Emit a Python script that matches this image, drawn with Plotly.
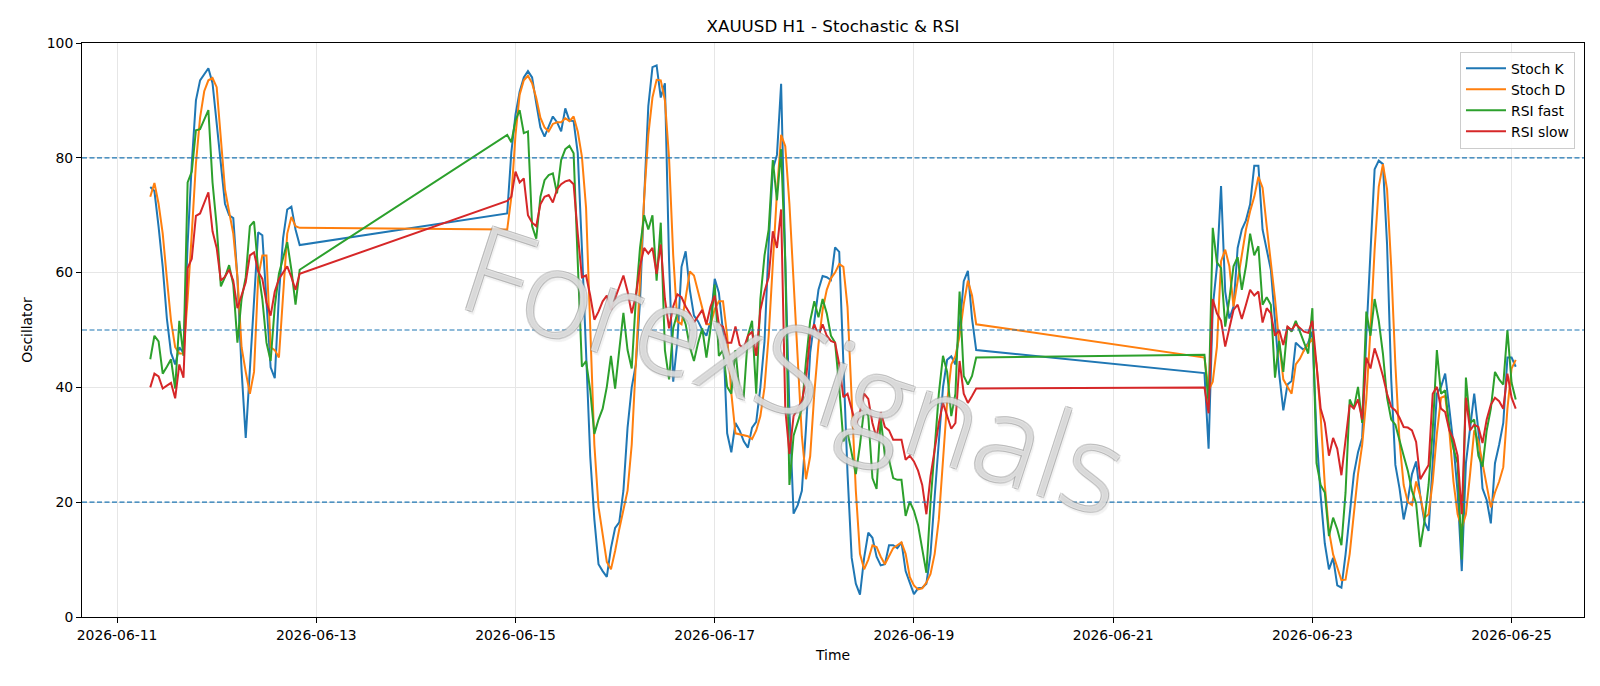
import pandas as pd
import plotly.graph_objects as go

# ---------------- data (hourly, three trading segments) ----------------
seg_starts = ["2026-06-11 08:00", "2026-06-14 22:00", "2026-06-21 22:00"]

stoch_k_1 = [74.9, 74.2, 68, 61, 52, 46, 44, 47, 46, 65, 79, 90, 93.5, 94.5, 95.6, 93, 86, 78, 72, 70,
             69.5, 59, 43, 31.2, 43, 54, 67, 66.5, 54, 43.5, 41.6, 56, 66, 71, 71.5, 67.5, 64.8]
stoch_d_1 = [73.2, 75.6, 72, 66.8, 59, 51.6, 47, 45.9, 45.9, 55.4, 66.8, 79, 87, 91.6, 93.5, 93.9, 92.3, 84, 74.5, 70.6,
             66.8, 59.2, 47, 42.7, 38.9, 42.7, 59.2, 63, 63, 47, 46.5, 45.2, 55.4, 66.8, 69.7, 68.1, 67.8]
rsi_fast_1 = [44.9, 49, 48, 42.4, 43.6, 44.9, 39.8, 51.6, 45.5, 75.7, 77.6, 84.8, 85, 86.5, 88.3, 75.7, 68.1, 57.6, 59.2, 61.3,
              57.9, 47.8, 55.4, 59.2, 68.1, 68.9, 60.5, 55.4, 47.8, 44.6, 54.1, 59.8, 62.4, 65.3, 60.5, 54.4, 60.5]
rsi_slow_1 = [40, 42.4, 41.9, 39.8, 40.3, 40.8, 38.1, 44, 41.7, 60.8, 62.4, 69.9, 70.3, 72.2, 74, 67.2, 64.3, 58.6, 59.3, 60.5,
              58.6, 53.8, 56, 58.3, 63, 63.5, 60.2, 58.9, 54.8, 52.5, 56.7, 58.9, 60, 61.1, 59.2, 57, 59.8]

stoch_k_2 = [70.3, 81, 87.5, 91.5, 94, 95.1, 94, 89.5, 85.3, 83.7, 85.5, 87.2, 86.2, 84.6, 88.6, 86.5, 86.4, 80.8, 64.3, 47,
             28, 17, 9.2, 8, 7, 12, 15.5, 16.5, 22,
             33, 40, 44, 55, 73, 89, 95.8, 96.1, 90.5, 93, 62, 41, 48, 61, 63.7, 57, 52.5, 51.5, 50, 49,
             51.5, 58.9, 56.5, 49.7, 32, 28.7, 33.8, 32.5, 30.6,
             29.5, 33, 34, 40, 48, 65, 78, 80.5, 92.9, 62, 36, 18, 19.5, 22, 33, 46, 52, 57, 59.4, 59.2,
             58.7, 64.4, 63.6, 45, 25, 10.3, 5.8, 3.9, 10.3, 14.7, 13.8,
             10.5, 9, 9.2, 12.5, 12.5, 12, 13, 8, 6, 4, 5, 5.1, 5.8, 11, 21, 31, 40, 44.8, 45.4, 44,
             50.5, 58.5, 60.3, 52, 46.5]
stoch_d_2 = [67.5, 73.2, 84, 91, 93.5, 94.3, 93, 90.4, 87, 85.3, 84.6, 85.9, 86.2, 86.2, 86.9, 86.4, 87.2, 84.6, 80.2, 71.3,
             52.2, 30, 19.2, 14, 9.6, 8.3, 11.5, 15.3, 18.5,
             22, 30, 45, 60, 73, 84, 90.5, 93.6, 93.5, 90, 80, 63, 51.5, 51, 56, 60.2, 59.5, 56.5, 54, 51,
             51, 53.6, 55, 55, 49, 39, 32, 31.8, 31.6,
             31.5, 31, 32.5, 35, 40, 49, 62, 74, 84, 82, 72, 58, 44, 31.5, 24, 28, 39, 47.5, 53.5, 57,
             59, 60, 61.5, 61, 54, 38, 22, 11, 8.3, 10, 12.5,
             12.2, 10.5, 9.2, 10.5, 12, 12.5, 13, 11, 7, 5.5, 4.8, 5, 6, 7.5, 11, 17, 28, 37.5, 44, 45.5,
             49, 54.5, 58.6, 56, 51]
rsi_fast_2 = [84, 82.7, 86.5, 88.3, 84.3, 84.6, 68.1, 65.9, 73.2, 76.1, 77, 77.3, 73.8, 79.6, 81.5, 82.1, 80.8, 61.8, 43.6, 44.6,
              39.5, 31.9, 34.4, 36.3, 40.1, 45.5, 39.8, 46.5, 53,
              46.5, 43.3, 55.4, 64.3, 70, 67.5, 70, 58.6, 68.7, 46.5, 41.4, 50.3, 52.9, 52.9, 51, 47.1, 44.6, 47.8, 50.3, 45.2,
              50.3, 57.9, 45.5, 46.5, 40.1, 38.9, 46.5, 38.9, 38.5,
              49, 51.6, 38.9, 55.4, 63, 67.5, 79.6, 72.6, 81.5, 61.8, 23, 31.6, 33.8, 36.3, 44.6, 51.6, 55, 52.2, 55.4, 52.9,
              49, 47.8, 40.1, 30.6, 32.2, 28.7, 24.9, 30, 36.3, 35, 24.2,
              22.3, 34.7, 28.1, 27.4, 24.2, 23.9, 23.9, 17.6, 20.1, 18.5, 16, 11.5, 7.7, 19.9, 30, 38.9, 45.5, 42.7, 35, 38.9,
              56.7, 42, 40.5, 42, 45.2]
rsi_slow_2 = [72.5, 73.2, 77.6, 75.7, 76.4, 70, 68.7, 68.1, 71.9, 73.2, 73.5, 72.2, 74.5, 75.4, 75.9, 76.1, 75.4, 66.8, 59.2, 59.5,
              56, 51.8, 53.2, 55, 56, 53.5, 55.4, 57.3, 59.5,
              56.7, 52.9, 56, 61.1, 64.3, 63.3, 64.3, 59.8, 64.9, 55.4, 50.3, 54.1, 56.2, 55.7, 54.1, 52.9, 51.3, 52.3, 53.5, 51,
              54.1, 56, 51, 50.6, 47.8, 47.8, 50.6, 47.4, 46.8,
              49, 49.7, 45.5, 53.5, 56.7, 59.2, 67.2, 64.3, 71, 36.3, 28.4, 35, 36.3, 37.6, 41.4, 49, 51, 49, 51, 49,
              48.1, 47.8, 44, 38.3, 38.9, 36.3, 33.5, 35.7, 38.9, 38, 33.8,
              31.2, 35.7, 33.1, 32.5, 30.9, 30.9, 30.9, 27.4, 28.1, 27.1, 25.5, 23, 17.9, 24.5, 29.3, 33.8, 37.3, 35, 32.8, 33.8,
              44.6, 38.9, 37.3, 38.5, 39.8]

stoch_k_3 = [42.5, 29.3, 54, 61, 75.1, 56.7, 52, 54.1, 64.3, 67.5, 69.1, 71.9, 78.6, 78.6, 67.5, 63.7, 60.5, 51.6, 42.4, 36,
             40.5, 41.1, 47.8, 47.1, 46.5,
             47.8, 49.7, 31.9, 21.1, 12.8, 8.3, 10.3, 5.5, 5.1, 10.9, 17.9, 24.9, 28.7, 31.2, 49, 64.9, 78, 79.5, 78.9, 64.9,
             41.4, 26.5, 22.4, 17, 20.4,
             24.9, 27.1, 21.1, 16.6, 15, 27.4, 38.9, 40.1, 42.4, 36.3, 30, 21.7, 8, 26.8, 32.5, 38.9, 32.5, 22.4, 20.4, 16.3,
             26.8, 30, 33.8, 45.2, 45.2, 43.6]
stoch_d_3 = [45.2, 39.5, 41, 47, 62, 64, 61.1, 54.1, 58.6, 63, 67.5, 70.7, 73.2, 76.7, 74.8, 68.1, 61.8, 55.4, 47.8, 41.4,
             40.1, 38.9, 44, 45, 46.5,
             47.5, 48.5, 44, 35, 23, 15, 10.9, 8.5, 6.4, 6.5, 11, 18, 24.9, 30, 38, 50, 64, 75, 78.9, 74.5,
             61, 44, 30.6, 23, 20,
             19.5, 23.6, 21.1, 17.3, 17.9, 23.6, 31.9, 38.2, 38.5, 32.5, 23.6, 17.9, 15.5, 17.9, 24.9, 32.5, 30.6, 26.8, 23, 19.1,
             21.7, 23.6, 26.1, 36.3, 43.3, 44.8]
rsi_fast_3 = [45.7, 37, 67.8, 61.8, 60.8, 50.6, 55.4, 61.1, 62.7, 57, 61.1, 66.8, 63, 64.6, 54.4, 55.7, 54.4, 41.7, 48.1, 42.7,
              50.6, 49.7, 51.6, 49.7, 47.8,
              45.9, 53.8, 26.8, 23, 21.7, 14.1, 17.3, 15.3, 12.5, 21.7, 37.9, 36.3, 40.1, 33.8, 53.2, 49, 55.4, 51.6, 45.9, 38.2,
              34.4, 33.5, 30.6, 28.1, 25.5,
              22, 19.8, 12.2, 16.6, 23, 32.5, 46.5, 38.9, 39.5, 33.1, 29.3, 26.8, 10, 41.7, 33.8, 34.4, 28.1, 26.2, 32.5, 36.3,
              42.7, 41.4, 40.5, 50, 40.8, 37.9]
rsi_slow_3 = [40, 35.5, 55.4, 52.9, 51.6, 47.1, 50.3, 53.5, 54.4, 51.9, 54.4, 57, 56, 56.7, 51.3, 53.8, 52.9, 49, 50, 47.4,
              50.6, 50, 51, 50.3, 49.7,
              49.5, 51.6, 44, 36.3, 33.8, 28.1, 31.2, 29.3, 24.7, 30.6, 37, 36.3, 37.9, 34.4, 45.2, 43.3, 46.8, 44.6, 42, 38.9,
              36.6, 36, 34.7, 33.1, 33,
              32.5, 30.5, 24, 25.2, 26.5, 38.9, 40.1, 36.3, 35.7, 32.5, 31, 28.1, 17.9, 38.2, 32.5, 33.5, 33.1, 30.3, 34.4, 37,
              38.2, 37.6, 36.3, 42.4, 38.2, 36.3]

levels = [80, 50, 20]
y_ticks = [0, 20, 40, 60, 80, 100]

# ---------------- assemble ----------------
segs_k = [stoch_k_1, stoch_k_2, stoch_k_3]
segs_d = [stoch_d_1, stoch_d_2, stoch_d_3]
segs_f = [rsi_fast_1, rsi_fast_2, rsi_fast_3]
segs_s = [rsi_slow_1, rsi_slow_2, rsi_slow_3]

times = []
for start, seg in zip(seg_starts, segs_k):
    times += list(pd.date_range(start, periods=len(seg), freq="h"))

def join(segs):
    out = []
    for s in segs:
        out += s
    return out

series = [
    ("Stoch K", join(segs_k), "#1f77b4"),
    ("Stoch D", join(segs_d), "#ff7f0e"),
    ("RSI fast", join(segs_f), "#2ca02c"),
    ("RSI slow", join(segs_s), "#d62728"),
]

FONT = "DejaVu Sans"
fig = go.Figure()
for name, vals, col in series:
    fig.add_trace(go.Scatter(x=times, y=vals, mode="lines", name=name,
                             line=dict(color=col, width=2)))

for lv in levels:
    fig.add_shape(type="line", xref="paper", x0=0, x1=1, yref="y", y0=lv, y1=lv,
                  line=dict(color="#1f77b4", width=1.2, dash="5px,2.5px"), layer="above")

g = "rgba(150,150,150,0.7)"
fig.add_annotation(text="ForexSignals", xref="paper", yref="paper", x=0.475, y=0.435,
                   showarrow=False, textangle=18,
                   font=dict(family="Open Sans", weight=300, size=122, color="rgba(255,255,255,0.6)",
                             shadow=f"-1px -1px 0 {g}, 1px -1px 0 {g}, -1px 1px 0 {g}, 1px 1px 0 {g}, "
                                    "3px 3px 1px rgba(180,180,180,0.3)"))

t0 = pd.Timestamp("2026-06-11 08:00")
t1 = pd.Timestamp("2026-06-25 01:00")
pad = (t1 - t0) * 0.05

fig.update_layout(
    width=1600, height=686,
    margin=dict(l=82, r=16, t=43, b=69),
    paper_bgcolor="white", plot_bgcolor="white",
    font=dict(family=FONT, size=14, color="black"),
    title=dict(text="XAUUSD H1 - Stochastic & RSI", x=0.5, xref="paper", xanchor="center",
               y=1 - 26 / 686, yanchor="middle", font=dict(size=16.7, family=FONT)),
    legend=dict(x=0.994, y=0.985, xanchor="right", yanchor="top",
                bgcolor="rgba(255,255,255,0.85)", bordercolor="#cccccc", borderwidth=1,
                font=dict(size=13.9, family=FONT), tracegroupgap=0, itemwidth=40),
    showlegend=True,
)
fig.update_xaxes(
    type="date", range=[t0 - pad, t1 + pad],
    tick0="2026-06-11", dtick=2 * 86400000, tickformat="%Y-%m-%d",
    showgrid=True, gridcolor="#e6e6e6", gridwidth=1,
    showline=True, linecolor="black", linewidth=1, mirror=True,
    ticks="outside", ticklen=5, tickcolor="black",
    tickfont=dict(size=13.9, family=FONT),
    title=dict(text="Time", font=dict(size=13.9, family=FONT), standoff=8),
    zeroline=False,
)
fig.update_yaxes(
    range=[0, 100], tickvals=y_ticks,
    showgrid=True, gridcolor="#e6e6e6", gridwidth=1,
    showline=True, linecolor="black", linewidth=1, mirror=True,
    ticks="outside", ticklen=5, tickcolor="black",
    tickfont=dict(size=13.9, family=FONT),
    title=dict(text="Oscillator", font=dict(size=13.9, family=FONT), standoff=10),
    zeroline=False,
)

fig.write_html("out.html")
